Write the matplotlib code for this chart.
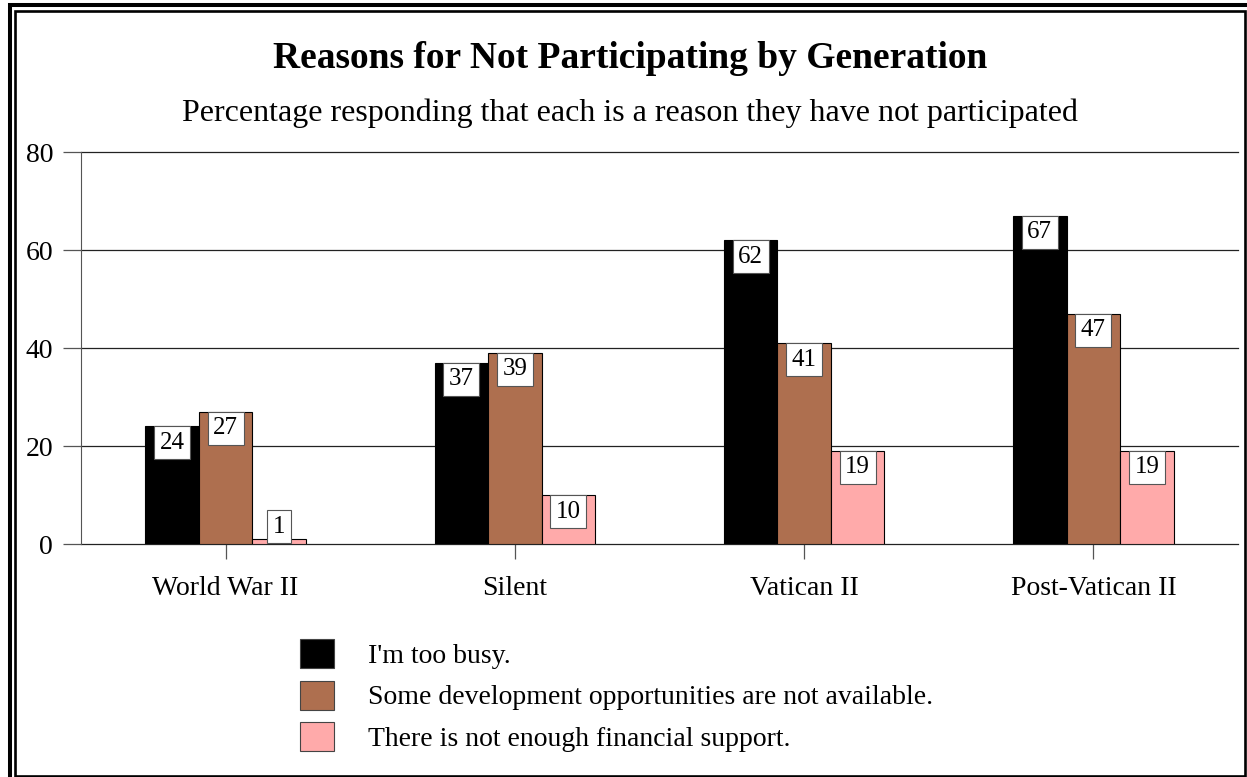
import matplotlib.pyplot as plt
import numpy as np
from matplotlib.patches import Rectangle, Patch

plt.rcParams['font.family'] = ['Liberation Serif', 'DejaVu Serif']

generations = ["World War II", "Silent", "Vatican II", "Post-Vatican II"]
reasons = ["I'm too busy.",
           "Some development opportunities are not available.",
           "There is not enough financial support."]
too_busy = [24, 37, 62, 67]
no_opportunities = [27, 39, 41, 47]
no_financial = [1, 10, 19, 19]
series = [too_busy, no_opportunities, no_financial]
colors = ["#000000", "#AE6F4F", "#FFAAAA"]

fig = plt.figure(figsize=(12.47, 7.77), dpi=100)
ax = fig.add_axes([81 / 1247, 1 - 544 / 777, 1157 / 1247, 392 / 777])

x = np.arange(len(generations))
w = 0.185
for i, (vals, col) in enumerate(zip(series, colors)):
    xs = x + (i - 1) * w
    ax.bar(xs, vals, width=w, color=col, edgecolor="black", linewidth=0.8, zorder=3)
    for xv, v in zip(xs, vals):
        box = dict(boxstyle="square,pad=0.22", facecolor="white", edgecolor="#555555", linewidth=0.8)
        if v >= 8:
            ax.annotate(str(v), (xv, v), xytext=(0, -4), textcoords="offset points",
                        ha="center", va="top", fontsize=18, bbox=box, zorder=4)
        else:
            ax.annotate(str(v), (xv, 0), xytext=(0, 4.5), textcoords="offset points",
                        ha="center", va="bottom", fontsize=18, bbox=box, zorder=4)

ax.set_xlim(-0.5, 3.5)
ax.set_ylim(0, 80)
ax.set_yticks([0, 20, 40, 60, 80])
ax.set_xticks(x)
ax.set_xticklabels(generations)
ax.yaxis.grid(True, color="#222222", linewidth=0.9, zorder=0)
for gl in ax.get_ygridlines():
    gl.set_clip_on(False)
for s in ["top", "right", "bottom"]:
    ax.spines[s].set_visible(False)
ax.spines["left"].set_color("#555555")
ax.tick_params(axis="y", direction="out", length=13, width=0.9, color="#555555",
               labelsize=20, pad=7)
ax.tick_params(axis="x", direction="out", length=11, width=0.9, color="#555555",
               labelsize=20, pad=12)

fig.text(630 / 1247, 1 - 58 / 777, "Reasons for Not Participating by Generation",
         ha="center", va="center", fontsize=27, fontweight="bold")
fig.text(630 / 1247, 1 - 113 / 777, "Percentage responding that each is a reason they have not participated",
         ha="center", va="center", fontsize=23)

handles = [Patch(facecolor=c, edgecolor="#444444", linewidth=0.8) for c in colors]
fig.legend(handles, reasons, loc="upper left", bbox_to_anchor=(300 / 1247, 1 - 639 / 777),
           frameon=False, fontsize=20, handlelength=1.22, handleheight=1.22,
           handletextpad=1.22, labelspacing=0.43, borderaxespad=0, borderpad=0)

# double frame around the chart
fig.add_artist(Rectangle((9.5 / 1247, -20 / 777), 1300 / 1247, (777 + 20 - 5.3) / 777,
                         transform=fig.transFigure, fill=False, edgecolor="black", linewidth=2.9))
fig.add_artist(Rectangle((14.7 / 1247, 1.5 / 777), 1229.8 / 1247, 765 / 777,
                         transform=fig.transFigure, fill=False, edgecolor="black", linewidth=1.9))

fig.savefig("out.png", dpi=100)
